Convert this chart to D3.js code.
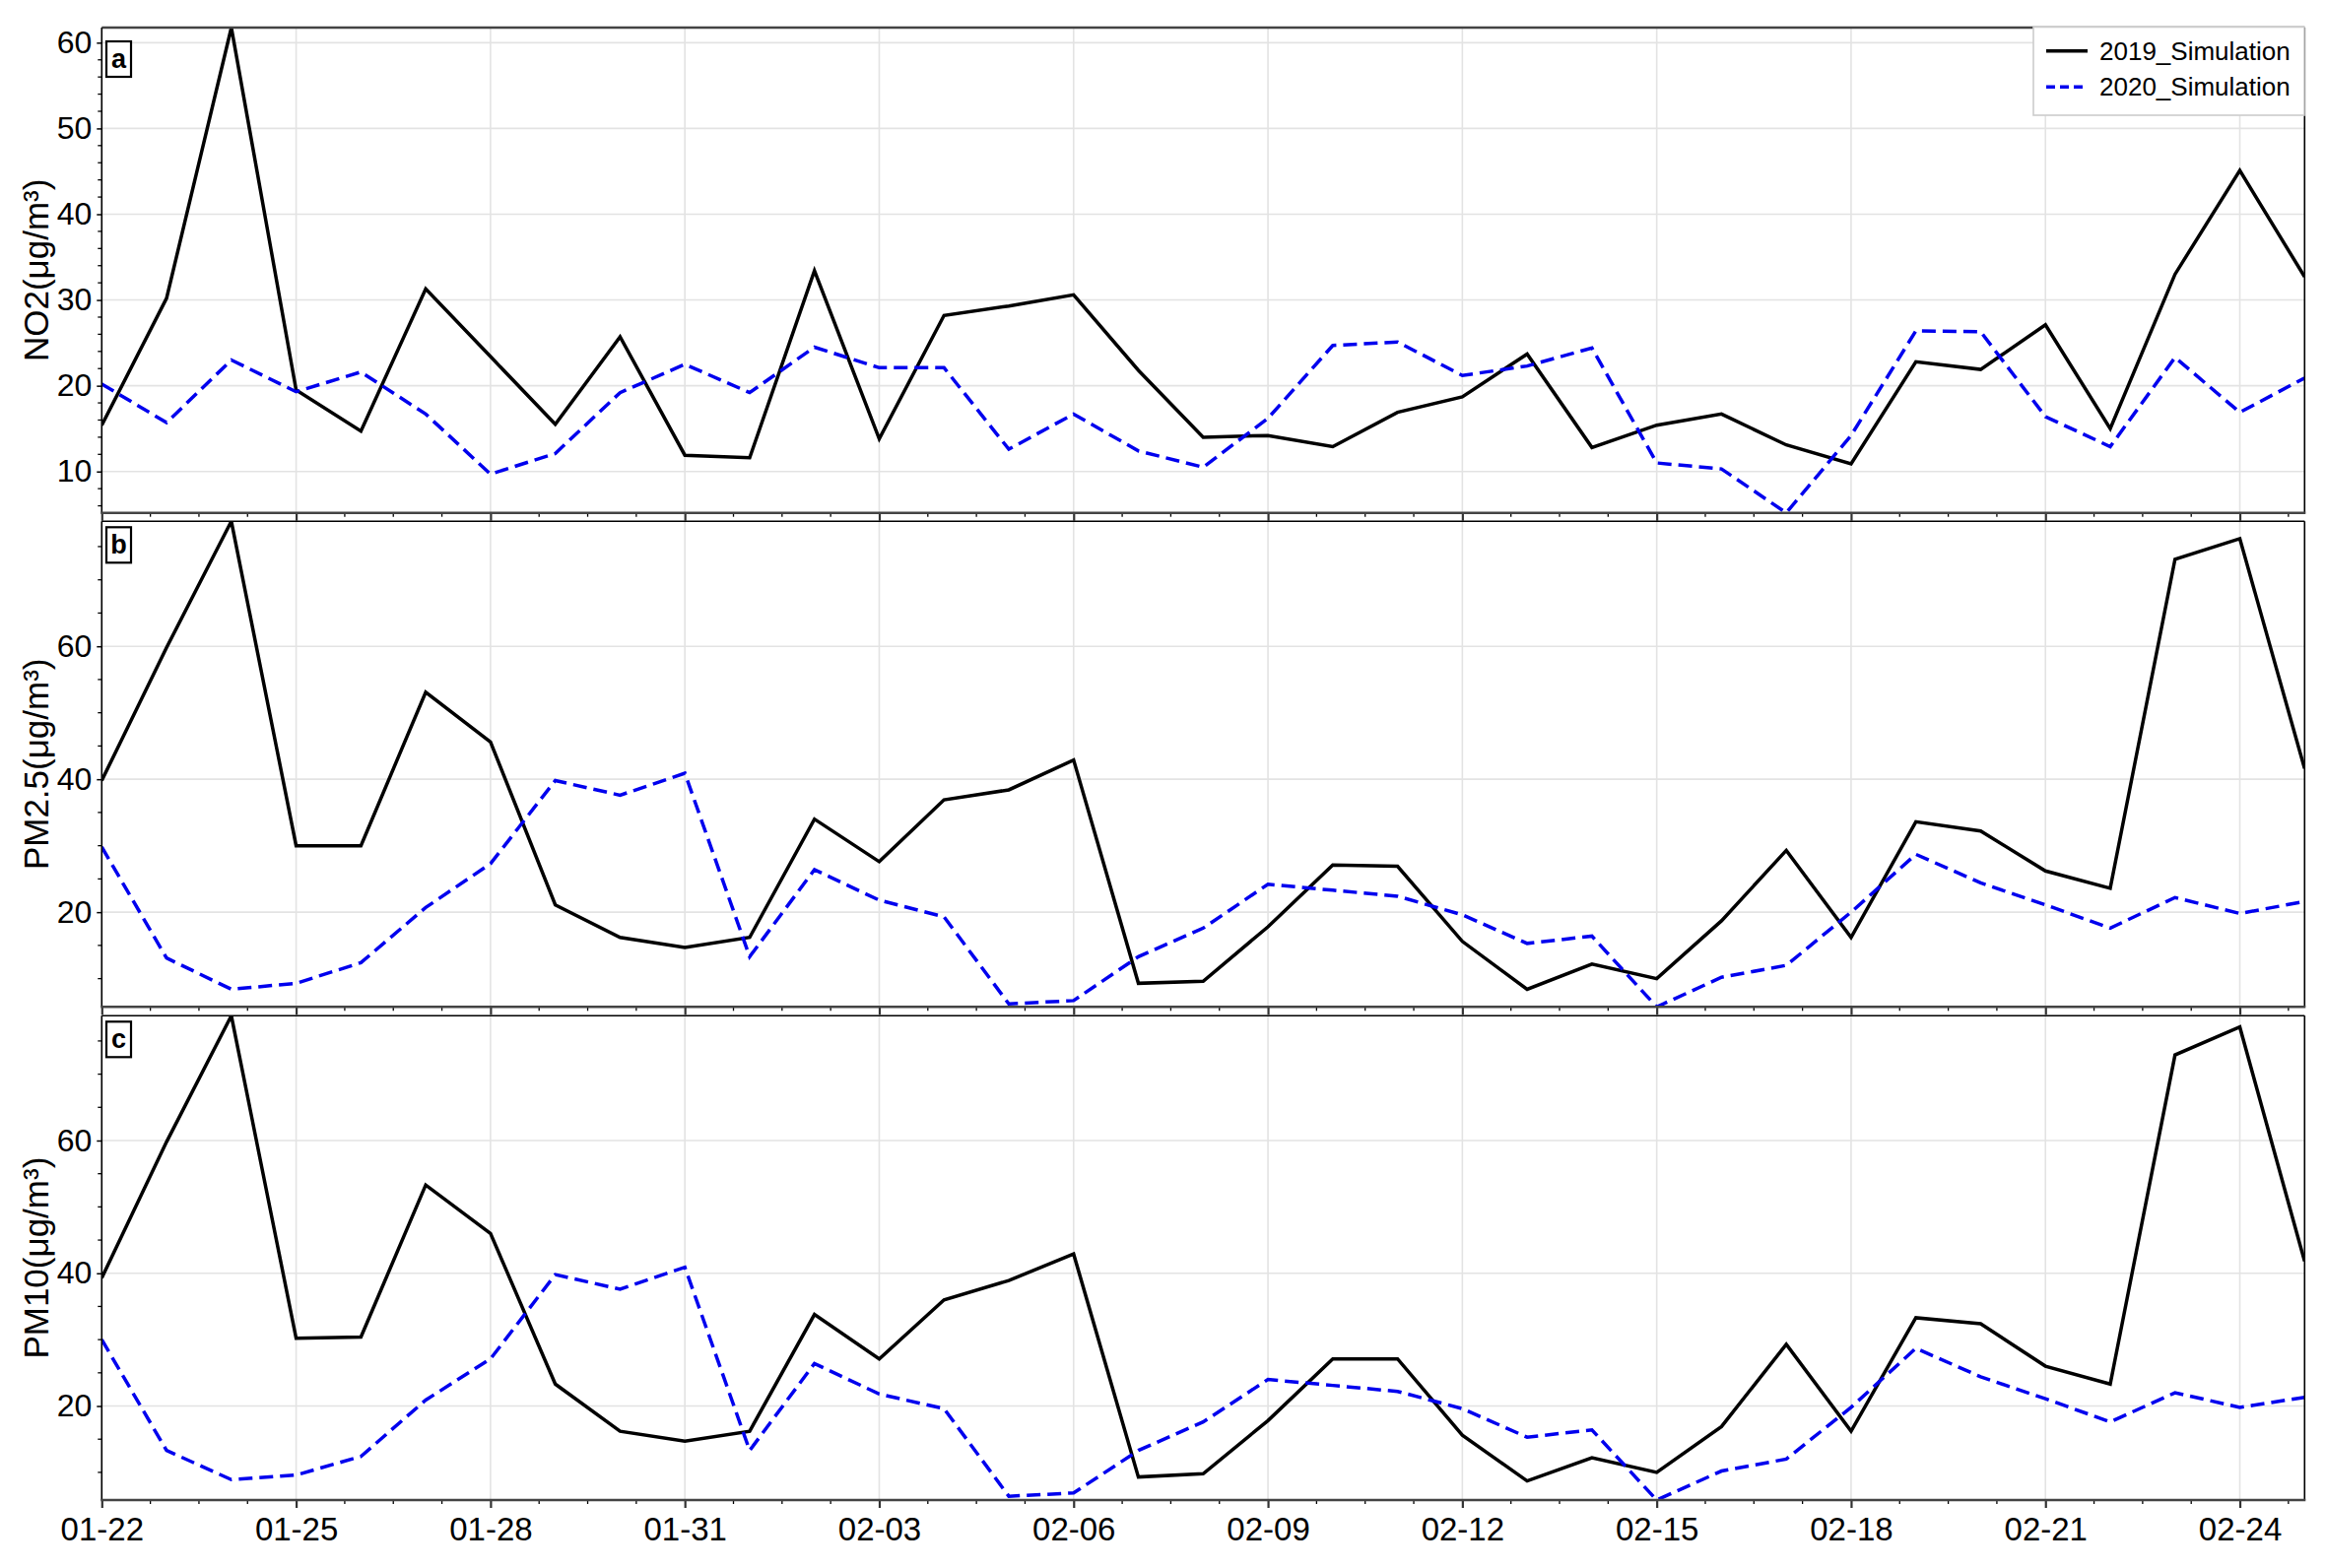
<!DOCTYPE html>
<html><head><meta charset="utf-8">
<script src="https://cdn.jsdelivr.net/npm/d3@7"></script>
<style>
body{margin:0;background:#fff}
svg{display:block}
text{font-family:"Liberation Sans",Arial,Helvetica,sans-serif;fill:#000}
</style>
</head><body>
<svg id="chart" width="2360" height="1592"></svg>
<script>
// ---------------- data ----------------
const dates = ["01-22","01-23","01-24","01-25","01-26","01-27","01-28","01-29","01-30","01-31",
  "02-01","02-02","02-03","02-04","02-05","02-06","02-07","02-08","02-09","02-10",
  "02-11","02-12","02-13","02-14","02-15","02-16","02-17","02-18","02-19","02-20",
  "02-21","02-22","02-23","02-24","02-25"];

const no2_2019 = [15.4,30.2,61.76,19.5,14.7,31.3,23.4,15.5,25.7,11.9,
  11.6,33.4,13.8,28.2,29.3,30.6,21.8,14.0,14.2,12.9,
  16.9,18.7,23.7,12.8,15.4,16.7,13.1,10.9,22.8,21.9,
  27.1,15.0,33.0,45.1,32.7];
const no2_2020 = [20.2,15.7,23.0,19.3,21.6,16.7,9.7,12.1,19.2,22.5,
  19.2,24.5,22.1,22.1,12.6,16.7,12.4,10.5,16.2,24.7,
  25.1,21.2,22.3,24.4,11.0,10.3,5.18,14.2,26.4,26.3,
  16.4,12.9,23.3,16.9,20.9];

const pm25_2019 = [39.8,59.8,78.8,30.0,30.0,53.1,45.6,21.1,16.2,14.7,
  16.2,34.0,27.6,36.9,38.4,42.9,9.3,9.6,17.8,27.1,
  26.9,15.6,8.4,12.2,10.0,18.7,29.3,16.2,33.6,32.2,
  26.2,23.6,73.1,76.2,41.6];
const pm25_2020 = [29.8,13.1,8.4,9.3,12.4,20.7,27.3,39.8,37.6,40.9,
  13.3,26.4,21.8,19.3,6.2,6.7,13.3,17.6,24.2,23.3,
  22.4,19.6,15.3,16.4,5.75,10.2,12.0,20.0,28.7,24.4,
  21.1,17.6,22.2,19.8,21.6];

const pm10_2019 = [39.3,59.8,78.8,30.2,30.4,53.3,46.0,23.3,16.2,14.7,
  16.2,33.8,27.1,36.0,38.9,42.9,9.3,9.8,17.8,27.1,
  27.1,15.6,8.7,12.2,10.0,16.9,29.3,16.2,33.3,32.4,
  26.0,23.3,72.9,77.1,41.8];
const pm10_2020 = [30.0,13.3,8.9,9.6,12.4,20.9,27.1,39.8,37.6,40.9,
  13.3,26.4,21.8,19.6,6.4,6.9,13.3,17.6,24.0,23.1,
  22.2,19.6,15.3,16.4,5.83,10.2,12.0,19.8,28.7,24.4,
  21.1,17.6,22.0,19.8,21.3];

const seriesNames = ["2019_Simulation","2020_Simulation"];
const panelLetters = ["a","b","c"];
const yTitles = ["NO2(μg/m³)","PM2.5(μg/m³)","PM10(μg/m³)"];
const yMajorTicks = [[10,20,30,40,50,60],[20,40,60],[20,40,60]];
const yMinorStep = [2,5,5];
const xTickLabels = ["01-22","01-25","01-28","01-31","02-03","02-06","02-09","02-12","02-15","02-18","02-21","02-24"];

// ---------------- layout ----------------
const svg = d3.select("#chart");
const left = 103.3, right = 2339.3;
const panels = [
  {top:28,   bottom:520.7, s:[no2_2019,no2_2020],  lab:14},
  {top:529.3,bottom:1022.3,s:[pm25_2019,pm25_2020],lab:6},
  {top:1031.3,bottom:1523, s:[pm10_2019,pm10_2020],lab:6}
];
const styles = [
  {color:"#000000", dash:null},
  {color:"#0000ee", dash:"14,7"}
];
const parse = d3.utcParse("%Y-%m-%d");
const xDates = dates.map(d => parse("2020-" + d));
const x = d3.scaleUtc().domain(d3.extent(xDates)).range([left, right]);
const xMajor = xTickLabels.map(d => parse("2020-" + d));
const dayMs = 86400000;
const t0 = xDates[0].getTime(), t1 = xDates[xDates.length-1].getTime();
const xMinor = d3.range(t0, t1 + 1, 0.75*dayMs).map(t => new Date(t));
const fmt = d3.utcFormat("%m-%d");

panels.forEach((p, pi) => {
  const all = p.s[0].concat(p.s[1]);
  const y = d3.scaleLinear().domain(d3.extent(all)).range([p.bottom, p.top]);
  const g = svg.append("g");
  const clipId = "clip" + pi;
  svg.append("clipPath").attr("id", clipId).append("rect")
    .attr("x", left).attr("y", p.top).attr("width", right-left).attr("height", p.bottom-p.top);

  // grid
  g.append("g").selectAll("line").data(yMajorTicks[pi]).join("line")
    .attr("x1", left).attr("x2", right)
    .attr("y1", d => y(d)).attr("y2", d => y(d))
    .attr("stroke", "#e3e3e3").attr("stroke-width", 1.6);
  g.append("g").selectAll("line").data(xMajor).join("line")
    .attr("x1", d => x(d)).attr("x2", d => x(d))
    .attr("y1", p.top).attr("y2", p.bottom)
    .attr("stroke", "#e3e3e3").attr("stroke-width", 1.6);

  // lines
  const lineGen = vals => d3.line().x((d,i) => x(xDates[i])).y(d => y(d))(vals);
  p.s.forEach((vals, si) => {
    g.append("path").attr("d", lineGen(vals))
      .attr("clip-path", `url(#${clipId})`)
      .attr("fill", "none").attr("stroke", styles[si].color)
      .attr("stroke-width", 3.5).attr("stroke-linejoin", "miter")
      .attr("stroke-dasharray", styles[si].dash);
  });

  // y axis (major)
  const yAxis = d3.axisLeft(y).tickValues(yMajorTicks[pi]).tickSize(5).tickPadding(5).tickFormat(d3.format("d"));
  const ya = g.append("g").attr("transform", `translate(${left},0)`).call(yAxis);
  ya.select(".domain").remove();
  ya.selectAll(".tick line").attr("stroke", "#000").attr("stroke-width", 1.5);
  ya.selectAll(".tick text").attr("font-size", 32).attr("font-family", '"Liberation Sans",Arial,sans-serif');
  // y minor
  const dom = y.domain();
  const yMin = d3.range(Math.ceil(dom[0]/yMinorStep[pi])*yMinorStep[pi], dom[1]+0.001, yMinorStep[pi])
    .filter(v => !yMajorTicks[pi].includes(v));
  g.append("g").selectAll("line").data(yMin).join("line")
    .attr("x1", left-4).attr("x2", left).attr("y1", d => y(d)).attr("y2", d => y(d))
    .attr("stroke", "#000").attr("stroke-width", 1.3);

  // x axis ticks
  const xAxis = d3.axisBottom(x).tickValues(xMajor).tickSize(8).tickPadding(10)
    .tickFormat(pi === 2 ? fmt : () => "");
  const xa = g.append("g").attr("transform", `translate(0,${p.bottom})`).call(xAxis);
  xa.select(".domain").remove();
  xa.selectAll(".tick line").attr("stroke", "#333").attr("stroke-width", 2.2);
  xa.selectAll(".tick text").attr("font-size", 33).attr("font-family", '"Liberation Sans",Arial,sans-serif');
  g.append("g").selectAll("line").data(xMinor.filter(d => !xMajor.some(m => +m === +d))).join("line")
    .attr("x1", d => x(d)).attr("x2", d => x(d))
    .attr("y1", p.bottom).attr("y2", p.bottom + 4)
    .attr("stroke", "#000").attr("stroke-width", 1.3);

  // frame
  g.append("line").attr("x1", left).attr("x2", right).attr("y1", p.top).attr("y2", p.top)
    .attr("stroke", pi === 0 ? "#444" : "#000").attr("stroke-width", pi === 0 ? 2.4 : 1.6);
  g.append("line").attr("x1", left).attr("x2", left).attr("y1", p.top).attr("y2", p.bottom)
    .attr("stroke", "#000").attr("stroke-width", 1.6);
  g.append("line").attr("x1", right).attr("x2", right).attr("y1", p.top).attr("y2", p.bottom)
    .attr("stroke", "#000").attr("stroke-width", 1.6);
  g.append("line").attr("x1", left-1).attr("x2", right+1).attr("y1", p.bottom).attr("y2", p.bottom)
    .attr("stroke", "#444").attr("stroke-width", 2.6);

  // y title
  g.append("text")
    .attr("transform", `translate(36,${(p.top+p.bottom)/2}) rotate(-90)`)
    .attr("text-anchor", "middle").attr("dominant-baseline", "central")
    .attr("font-size", 35).text(yTitles[pi]);

  // panel letter
  const lx = 108, ly = p.top + p.lab;
  g.append("rect").attr("x", lx).attr("y", ly).attr("width", 25).attr("height", 36)
    .attr("fill", "#fff").attr("stroke", "#000").attr("stroke-width", 2.2);
  g.append("text").attr("x", lx + 12.5).attr("y", ly + 27)
    .attr("text-anchor", "middle").attr("font-weight", "bold").attr("font-size", 27)
    .text(panelLetters[pi]);
});

// legend
const lg = svg.append("g");
lg.append("rect").attr("x", 2064).attr("y", 27.5).attr("width", 275).attr("height", 89.5)
  .attr("fill", "#fff").attr("stroke", "#cccccc").attr("stroke-width", 1.6);
seriesNames.forEach((name, i) => {
  const cy = 51.7 + i*36.6;
  lg.append("line").attr("x1", 2077).attr("x2", 2119).attr("y1", cy).attr("y2", cy)
    .attr("stroke", styles[i].color).attr("stroke-width", 3.5)
    .attr("stroke-dasharray", styles[i].dash ? "9,5" : null);
  lg.append("text").attr("x", 2131).attr("y", cy + 9).attr("font-size", 26).text(name);
});
</script>
</body></html>
